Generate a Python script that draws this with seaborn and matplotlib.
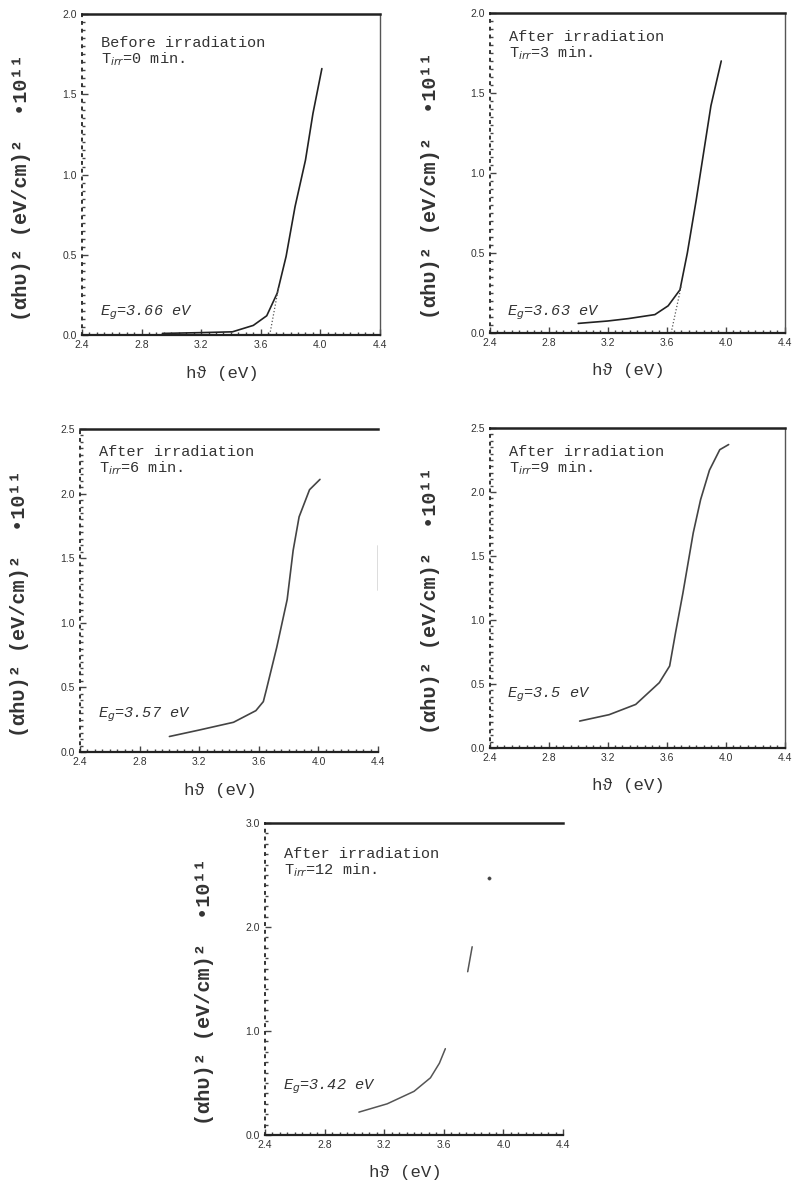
import numpy as np
import pandas as pd
import matplotlib
matplotlib.use("Agg")
import matplotlib.pyplot as plt
import seaborn as sns
from matplotlib.ticker import MultipleLocator

# panel titles
titles = ["Before irradiation", "After irradiation", "After irradiation",
          "After irradiation", "After irradiation"]
times = ["0", "3", "6", "9", "12"]
gaps = ["3.66", "3.63", "3.57", "3.5", "3.42"]
ymax = [2.0, 2.0, 2.5, 2.5, 3.0]

# curves (hv in eV, (alpha h v)^2 in 1e11 (eV/cm)^2)
p1_x = [2.94, 3.20, 3.41, 3.55, 3.64, 3.71, 3.77, 3.83, 3.90, 3.95, 4.01]
p1_y = [0.01, 0.015, 0.02, 0.06, 0.12, 0.26, 0.49, 0.80, 1.09, 1.38, 1.66]
p2_x = [3.00, 3.20, 3.34, 3.52, 3.61, 3.69, 3.74, 3.80, 3.85, 3.90, 3.97]
p2_y = [0.06, 0.075, 0.09, 0.115, 0.17, 0.27, 0.50, 0.83, 1.125, 1.42, 1.70]
p3_x = [3.00, 3.20, 3.43, 3.58, 3.63, 3.65, 3.72, 3.79, 3.83, 3.87, 3.94, 4.01]
p3_y = [0.12, 0.17, 0.23, 0.32, 0.39, 0.48, 0.81, 1.18, 1.56, 1.82, 2.03, 2.11]
p4_x = [3.01, 3.21, 3.39, 3.55, 3.62, 3.66, 3.71, 3.78, 3.83, 3.89, 3.96, 4.02]
p4_y = [0.21, 0.26, 0.34, 0.51, 0.64, 0.90, 1.21, 1.68, 1.94, 2.17, 2.33, 2.37]
# last panel is faded in the scan: two visible pieces + a dot
p5_x = [3.03, 3.22, 3.40, 3.51, 3.57, 3.61, 3.76, 3.79]
p5_y = [0.22, 0.30, 0.42, 0.55, 0.69, 0.83, 1.57, 1.81]
p5_seg = [0, 0, 0, 0, 0, 0, 1, 1]
p5_dot_x = [3.90]
p5_dot_y = [2.47]

# dotted extrapolation lines (panels 1 and 2)
tan1_x = [3.66, 3.72]
tan1_y = [0.0, 0.30]
tan2_x = [3.63, 3.70]
tan2_y = [0.0, 0.30]

xticks = [2.4, 2.8, 3.2, 3.6, 4.0, 4.4]

sns.set_theme(style="white")
plt.rcParams["font.family"] = ["Liberation Sans", "DejaVu Sans"]
MONO = ["Liberation Mono", "DejaVu Sans Mono"]

fig = plt.figure(figsize=(7.95, 11.91), dpi=100)
boxes = [
    [0.103, 0.7187, 0.375, 0.2695],
    [0.616, 0.7204, 0.371, 0.2687],
    [0.1006, 0.3686, 0.375, 0.2712],
    [0.616, 0.372, 0.371, 0.2687],
    [0.3333, 0.047, 0.375, 0.262],
]
curves = [(p1_x, p1_y), (p2_x, p2_y), (p3_x, p3_y), (p4_x, p4_y), (p5_x, p5_y)]
text_y = [0.91, 0.925, 0.93, 0.925, 0.90]
eg_y = [0.07, 0.065, 0.115, 0.166, 0.154]
ink = "#222222"
ylab = "(\u03b1h\u03c5)\u00b2 (eV/cm)\u00b2  \u202210\u00b9\u00b9"

for i, box in enumerate(boxes):
    ax = fig.add_axes(box)
    cx, cy = curves[i]
    if i == 4:
        df = pd.DataFrame({"x": cx, "y": cy, "seg": p5_seg})
        sns.lineplot(data=df, x="x", y="y", units="seg", estimator=None,
                     sort=False, ax=ax, color="#555555", lw=1.1)
        sns.scatterplot(x=p5_dot_x, y=p5_dot_y, ax=ax, color="#444444", s=6,
                        edgecolor=None)
    else:
        df = pd.DataFrame({"x": cx, "y": cy})
        sns.lineplot(data=df, x="x", y="y", estimator=None, sort=False, ax=ax,
                     color=ink if i < 2 else "#444444", lw=1.2)
    if i == 0:
        ax.plot(tan1_x, tan1_y, ls=":", color="#555555", lw=0.9)
    if i == 1:
        ax.plot(tan2_x, tan2_y, ls=":", color="#555555", lw=0.9)

    ax.set_xlim(2.4, 4.4)
    ax.set_ylim(0, ymax[i])
    ax.set_xticks(xticks)
    ax.set_xticklabels([f"{t:.1f}" for t in xticks])
    step = 1.0 if ymax[i] == 3.0 else 0.5
    ax.yaxis.set_major_locator(MultipleLocator(step))
    ax.yaxis.set_major_formatter(matplotlib.ticker.FormatStrFormatter("%.1f"))
    ax.yaxis.set_minor_locator(MultipleLocator(0.1 if ymax[i] == 3.0 else 0.05))
    ax.xaxis.set_minor_locator(MultipleLocator(0.05))
    ax.tick_params(which="both", direction="in", colors="#444444",
                   labelsize=7.5, labelcolor="#333333")
    ax.tick_params(which="major", length=4, width=1.0)
    ax.tick_params(which="minor", length=2.5, width=1.0)
    ax.tick_params(axis="both", which="both", left=True, bottom=True,
                   right=False, top=False)

    ax.spines["top"].set_linewidth(1.8)
    ax.spines["top"].set_color(ink)
    ax.spines["bottom"].set_linewidth(1.6)
    ax.spines["bottom"].set_color(ink)
    ax.spines["left"].set_linestyle((0, (1, 3)))
    ax.spines["left"].set_linewidth(1.4)
    ax.spines["left"].set_color("#333333")
    ax.spines["right"].set_linewidth(1.0)
    ax.spines["right"].set_color("#555555")
    if i == 2:
        ax.spines["right"].set_visible(False)
        ax.axvline(4.4, ymin=0.5, ymax=0.64, color="#555555", lw=1.0)
    if i == 4:
        ax.spines["right"].set_visible(False)

    ax.set_xlabel("h\u03d1 (eV)", family=MONO, fontsize=12.5, color="#333333")
    ax.xaxis.set_label_coords(0.47, -0.095)
    ax.set_ylabel(ylab, family=MONO, fontsize=14.5, fontweight="bold",
                  color="#333333")
    ax.yaxis.set_label_coords(-0.17, 0.46)

    ax.text(0.065, text_y[i], titles[i], transform=ax.transAxes,
            family=MONO, fontsize=11, color="#333333", va="center")
    ax.text(0.065, text_y[i] - 0.052, "T$_{irr}$=" + times[i] + " min.",
            transform=ax.transAxes, family=MONO,
            fontsize=11, color="#333333", va="center")
    ax.text(0.06, eg_y[i], "E$_g$=" + gaps[i] + " eV", transform=ax.transAxes,
            family=MONO, fontsize=11, style="italic", color="#333333",
            va="center")

fig.savefig("out.png", dpi=100)
